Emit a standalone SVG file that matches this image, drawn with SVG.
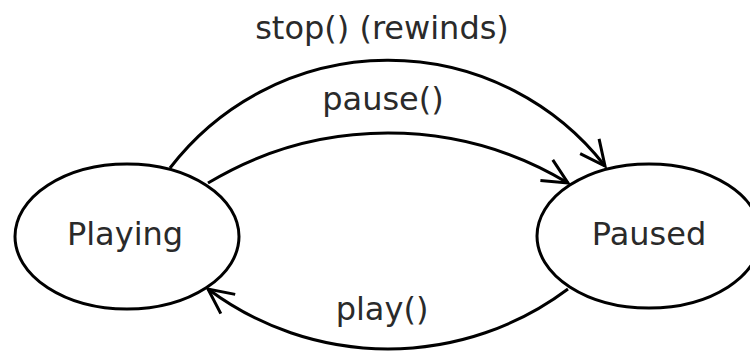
<svg xmlns="http://www.w3.org/2000/svg" width="750" height="351" viewBox="0 0 750 351">
  <style>
    .state { fill: #fff; stroke: #000; stroke-width: 3; }
    .edge { fill: none; stroke: #000; stroke-width: 3; }
    .label { font-family: "DejaVu Sans", sans-serif; font-size: 32px; fill: #2a2a2a; text-anchor: middle; }
  </style>
  <defs>
    <marker id="arrow" markerUnits="userSpaceOnUse" markerWidth="40" markerHeight="40" viewBox="-30 -20 40 40" refX="0" refY="0" orient="auto" overflow="visible">
      <path d="M-25,-12 L0,0 L-25,12" fill="none" stroke="#000" stroke-width="3" stroke-linejoin="miter"/>
    </marker>
  </defs>
  <rect width="750" height="351" fill="#fff"/>
  <g id="connectors">
    <g id="edge-stop">
      <path class="edge" d="M170,168 A275,275 0 0 1 605,166" marker-end="url(#arrow)"/>
      <text class="label" x="382" y="39">stop() (rewinds)</text>
    </g>
    <g id="edge-pause">
      <path class="edge" d="M208,183 A349,349 0 0 1 568,183" marker-end="url(#arrow)"/>
      <text class="label" x="383" y="110">pause()</text>
    </g>
    <g id="edge-play">
      <path class="edge" d="M568,289 A300,300 0 0 1 208,289" marker-end="url(#arrow)"/>
      <text class="label" x="382" y="320">play()</text>
    </g>
  </g>
  <g id="node-playing">
    <ellipse class="state" cx="127" cy="236.5" rx="112" ry="72.5"/>
    <text class="label" x="125" y="245">Playing</text>
  </g>
  <g id="node-paused">
    <ellipse class="state" cx="649" cy="236" rx="112" ry="72"/>
    <text class="label" x="649" y="245">Paused</text>
  </g>
</svg>
